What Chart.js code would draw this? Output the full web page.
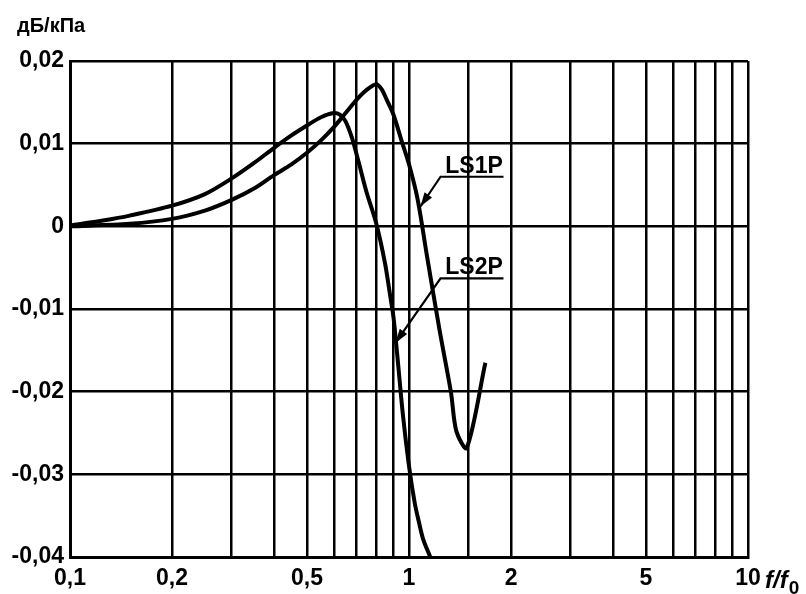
<!DOCTYPE html>
<html>
<head>
<meta charset="utf-8">
<script src="https://cdn.jsdelivr.net/npm/chart.js@4.4.0/dist/chart.umd.min.js"></script>
<style>
  html, body { margin: 0; padding: 0; background: #fff; }
  #wrap { width: 806px; height: 594px; position: relative; }
</style>
</head>
<body>
<div id="wrap"><canvas id="c" width="806" height="594"></canvas></div>
<script>
// ---- data ----
const ls2pFreq = [0.1, 0.125, 0.15, 0.2, 0.25, 0.3, 0.35, 0.4, 0.45, 0.5, 0.55, 0.6, 0.625, 0.65, 0.68, 0.71, 0.75, 0.8, 0.85, 0.88, 0.9, 0.922, 0.96, 1.0, 1.04, 1.07, 1.1, 1.155];
const ls2pValues = [0.0001, 0.0007, 0.0013, 0.0025, 0.0039, 0.0058, 0.0077, 0.0095, 0.0110, 0.0122, 0.0132, 0.0137, 0.0135, 0.0127, 0.0106, 0.0078, 0.0041, 0.0004, -0.0045, -0.0084, -0.0110, -0.0153, -0.0229, -0.0290, -0.0335, -0.0358, -0.0378, -0.0400];

const ls1pFreq = [0.1, 0.15, 0.2, 0.25, 0.3, 0.35, 0.4, 0.45, 0.5, 0.55, 0.6, 0.65, 0.7, 0.75, 0.8, 0.83, 0.86, 0.9, 0.95, 1.0, 1.06, 1.13, 1.23, 1.33, 1.38, 1.48, 1.68];
const ls1pValues = [0.0000, 0.0003, 0.0009, 0.0019, 0.0032, 0.0046, 0.0062, 0.0075, 0.0089, 0.0104, 0.0120, 0.0137, 0.0153, 0.0165, 0.0172, 0.0166, 0.0153, 0.0135, 0.0104, 0.0075, 0.0033, -0.0036, -0.0125, -0.0201, -0.0248, -0.0268, -0.0165];

const xTickLabels = [0.1, 0.2, 0.5, 1, 2, 5, 10];
const yMin = -0.04, yMax = 0.02, yStep = 0.01;
const yUnit = 'дБ/кПа';
const seriesNames = ['LS1P', 'LS2P'];
// callout anchors in data space: [underline start f, underline end f, underline value, arrow tip f, arrow tip value]
const ls1pCallout = [1.239, 1.90, 0.0060, 1.081, 0.0024];
const ls2pCallout = [1.239, 1.90, -0.0063, 0.912, -0.0141];

const FONT = '"Liberation Sans", Arial, sans-serif';

function toPoints(xs, ys) { return xs.map((x, i) => ({ x: x, y: ys[i] })); }
function fmtComma(v, digits) { return v.toFixed(digits).replace('.', ','); }

const overlay = {
  id: 'overlay',
  afterDraw(chart) {
    const ctx = chart.ctx;
    const xs = chart.scales.x, ys = chart.scales.y;
    const ca = chart.chartArea;
    ctx.save();
    ctx.fillStyle = '#000';
    ctx.strokeStyle = '#000';
    // unit label
    ctx.font = 'bold 20px ' + FONT;
    ctx.textAlign = 'left';
    ctx.textBaseline = 'alphabetic';
    ctx.fillText(yUnit, ca.left - 53, ca.top - 29);
    // f/f0 axis title
    ctx.font = 'italic bold 24px ' + FONT;
    const bx = ca.right + 17, by = ca.bottom + 31;
    ctx.fillText('f/f', bx, by);
    const w = ctx.measureText('f/f').width;
    ctx.font = 'bold 19px ' + FONT;
    ctx.fillText('0', bx + w + 1, by + 6);
    // callouts
    const callouts = [[seriesNames[0], ls1pCallout], [seriesNames[1], ls2pCallout]];
    callouts.forEach(([name, c]) => {
      const x1 = xs.getPixelForValue(c[0]), x2 = xs.getPixelForValue(c[1]);
      const yl = ys.getPixelForValue(c[2]);
      const tx = xs.getPixelForValue(c[3]), ty = ys.getPixelForValue(c[4]);
      ctx.lineWidth = 2.2;
      ctx.beginPath();
      ctx.moveTo(x2, yl); ctx.lineTo(x1, yl); ctx.lineTo(tx, ty);
      ctx.stroke();
      // arrowhead
      const ang = Math.atan2(ty - yl, tx - x1);
      const L = 14, W = 4.5;
      ctx.beginPath();
      ctx.moveTo(tx, ty);
      ctx.lineTo(tx - L * Math.cos(ang) + W * Math.sin(ang), ty - L * Math.sin(ang) - W * Math.cos(ang));
      ctx.lineTo(tx - L * Math.cos(ang) - W * Math.sin(ang), ty - L * Math.sin(ang) + W * Math.cos(ang));
      ctx.closePath();
      ctx.fill();
      ctx.font = 'bold 23px ' + FONT;
      ctx.textAlign = 'center';
      ctx.fillText(name, (x1 + x2) / 2 + 2, yl - 4);
    });
    ctx.restore();
  }
};

new Chart(document.getElementById('c'), {
  type: 'line',
  data: {
    datasets: [
      { label: seriesNames[0], data: toPoints(ls1pFreq, ls1pValues), borderColor: '#000', borderWidth: 4, pointRadius: 0, tension: 0.3, fill: false },
      { label: seriesNames[1], data: toPoints(ls2pFreq, ls2pValues), borderColor: '#000', borderWidth: 4, pointRadius: 0, tension: 0.3, fill: false }
    ]
  },
  options: {
    responsive: false,
    animation: false,
    devicePixelRatio: 1,
    layout: { padding: { left: 0, right: 58, top: 61, bottom: 0 } },
    plugins: { legend: { display: false }, tooltip: { enabled: false } },
    scales: {
      x: {
        type: 'logarithmic',
        min: 0.1, max: 10,
        afterFit(s) { s.height = 37; },
        grid: { color: '#000', lineWidth: 2.5, drawTicks: false },
        border: { display: true, color: '#000', width: 3 },
        ticks: {
          autoSkip: false, maxRotation: 0, padding: 8, color: '#000',
          font: { family: FONT, size: 23, weight: 'bold' },
          callback(v) {
            const m = xTickLabels.find(t => Math.abs(t - v) < 1e-6 * t);
            return m === undefined ? '' : String(m).replace('.', ',');
          }
        }
      },
      y: {
        min: yMin, max: yMax,
        afterFit(s) { s.width = 70; },
        grid: { color: '#000', lineWidth: 2.5, drawTicks: false },
        border: { display: true, color: '#000', width: 3 },
        ticks: {
          stepSize: yStep, padding: 6, color: '#000',
          font: { family: FONT, size: 23, weight: 'bold' },
          callback(v) { return Math.abs(v) < 1e-9 ? '0' : fmtComma(v, 2); }
        }
      }
    }
  },
  plugins: [overlay]
});
</script>
</body>
</html>
